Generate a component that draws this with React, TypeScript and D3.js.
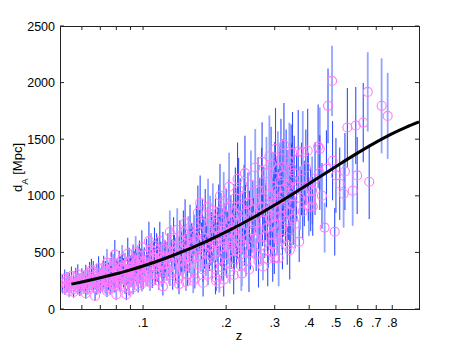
import React from "react";
import * as d3 from "d3";

const W = 463;
const H = 349;

// axis ticks
const xTicks = [0.06, 0.07, 0.08, 0.09, 0.1, 0.2, 0.3, 0.4, 0.5, 0.6, 0.7, 0.8];
const xTickLabels = ["", "", "", "", ".1", ".2", ".3", ".4", ".5", ".6", ".7", ".8"];
const yTicks = [0, 500, 1000, 1500, 2000, 2500];

// model curve
const curveZ = [0.055, 0.06, 0.07, 0.08, 0.09, 0.1, 0.12, 0.15, 0.2, 0.25, 0.3, 0.35, 0.4, 0.5, 0.6, 0.7, 0.8, 0.9, 1.0];
const curveDA = [220, 239, 276, 311, 346, 380, 446, 539, 681, 806, 919, 1019, 1108, 1259, 1379, 1474, 1549, 1607, 1652];

// points: [z, dA, error, kind (0 = dark bar, 1 = light bar)]
type Pt = [number, number, number, number];

const lowZPoints: Pt[] = [
  [0.051, 236, 70, 0], [0.052, 185, 60, 1], [0.052, 268, 80, 0], [0.053, 210, 65, 0], [0.054, 160, 55, 1],
  [0.054, 245, 75, 0], [0.055, 290, 85, 0], [0.055, 200, 60, 1], [0.056, 228, 70, 0], [0.056, 175, 55, 0],
  [0.057, 258, 80, 1], [0.057, 215, 65, 0], [0.058, 305, 90, 0], [0.058, 190, 60, 0], [0.059, 240, 75, 1],
  [0.059, 170, 55, 0], [0.060, 275, 85, 0], [0.060, 222, 70, 1], [0.051, 198, 60, 0], [0.053, 252, 75, 1],
  [0.054, 225, 70, 0], [0.056, 150, 50, 0], [0.057, 280, 85, 0], [0.058, 235, 70, 1], [0.059, 205, 65, 0],
  [0.061, 260, 75, 0], [0.061, 195, 60, 1], [0.062, 300, 90, 0], [0.062, 235, 70, 0], [0.063, 180, 55, 1],
  [0.063, 270, 80, 0], [0.064, 320, 95, 0], [0.064, 215, 65, 0], [0.065, 250, 75, 1], [0.065, 345, 100, 0],
  [0.066, 205, 60, 0], [0.066, 285, 85, 1], [0.067, 240, 70, 0], [0.067, 115, 45, 0], [0.068, 310, 90, 0],
  [0.068, 265, 80, 1], [0.069, 225, 70, 0], [0.069, 360, 105, 0], [0.070, 280, 85, 1], [0.070, 200, 60, 0],
  [0.062, 140, 50, 0], [0.064, 255, 75, 1], [0.066, 330, 95, 0], [0.068, 185, 60, 0], [0.069, 245, 75, 1],
  [0.071, 300, 90, 0], [0.071, 225, 70, 1], [0.072, 365, 105, 0], [0.072, 260, 80, 0], [0.073, 195, 60, 1],
  [0.073, 330, 95, 0], [0.074, 285, 85, 0], [0.074, 410, 120, 1], [0.075, 240, 75, 0], [0.075, 315, 95, 0],
  [0.076, 180, 55, 0], [0.076, 350, 100, 1], [0.077, 270, 80, 0], [0.077, 395, 115, 0], [0.078, 220, 70, 1],
  [0.078, 305, 90, 0], [0.079, 480, 130, 0], [0.079, 250, 75, 0], [0.080, 128, 50, 1], [0.080, 340, 100, 0],
  [0.072, 290, 85, 1], [0.074, 160, 55, 0], [0.076, 295, 90, 0], [0.078, 375, 110, 1], [0.079, 210, 65, 0],
  [0.081, 330, 95, 0], [0.081, 255, 75, 1], [0.082, 400, 115, 0], [0.082, 290, 85, 0], [0.083, 215, 65, 1],
  [0.083, 360, 105, 0], [0.084, 310, 90, 0], [0.084, 440, 125, 1], [0.085, 270, 80, 0], [0.085, 350, 100, 0],
  [0.086, 195, 60, 0], [0.086, 385, 110, 1], [0.087, 128, 50, 0], [0.087, 300, 90, 0], [0.088, 489, 140, 0],
  [0.088, 245, 75, 1], [0.089, 340, 100, 0], [0.089, 420, 120, 0], [0.090, 275, 85, 1], [0.090, 365, 105, 0],
  [0.082, 235, 70, 0], [0.084, 375, 110, 0], [0.086, 280, 85, 1], [0.088, 330, 100, 0], [0.089, 180, 60, 0],
  [0.091, 370, 110, 0], [0.091, 280, 85, 1], [0.092, 440, 130, 0], [0.092, 320, 95, 0], [0.093, 240, 75, 1],
  [0.093, 395, 115, 0], [0.094, 345, 100, 0], [0.094, 500, 145, 1], [0.095, 300, 90, 0], [0.095, 385, 115, 0],
  [0.096, 210, 65, 0], [0.096, 430, 125, 1], [0.097, 330, 100, 0], [0.097, 470, 135, 0], [0.098, 265, 80, 1],
  [0.098, 360, 105, 0], [0.099, 545, 150, 0], [0.099, 290, 85, 0], [0.100, 405, 120, 1], [0.100, 250, 75, 0],
  [0.092, 190, 60, 0], [0.094, 410, 120, 0], [0.096, 350, 105, 1], [0.098, 415, 120, 0], [0.099, 225, 70, 1],
];

const midZPoints: Pt[] = [
  [0.101, 420, 125, 0], [0.102, 330, 100, 1], [0.103, 480, 140, 0], [0.104, 380, 115, 0], [0.104, 290, 90, 1],
  [0.105, 445, 130, 0], [0.106, 350, 105, 0], [0.107, 520, 150, 1], [0.107, 400, 120, 0], [0.108, 265, 80, 0],
  [0.109, 460, 135, 0], [0.110, 370, 110, 1], [0.110, 560, 160, 0], [0.111, 310, 95, 0], [0.112, 430, 130, 1],
  [0.113, 490, 140, 0], [0.113, 345, 105, 0], [0.114, 250, 80, 0], [0.115, 405, 120, 1], [0.115, 600, 170, 0],
  [0.116, 460, 135, 0], [0.117, 280, 85, 1], [0.117, 385, 115, 0], [0.118, 530, 150, 0], [0.119, 440, 130, 1],
  [0.119, 330, 100, 0], [0.120, 470, 140, 0], [0.120, 395, 120, 0], [0.106, 235, 75, 1], [0.112, 520, 150, 0],
  [0.121, 455, 135, 0], [0.122, 360, 110, 1], [0.123, 520, 150, 0], [0.124, 410, 125, 0], [0.125, 300, 95, 1],
  [0.126, 575, 165, 0], [0.127, 470, 140, 0], [0.128, 385, 115, 1], [0.129, 630, 180, 0], [0.130, 505, 150, 0],
  [0.131, 330, 100, 0], [0.132, 445, 135, 1], [0.133, 560, 160, 0], [0.134, 270, 85, 0], [0.135, 490, 145, 1],
  [0.136, 610, 175, 0], [0.137, 420, 125, 0], [0.138, 535, 155, 0], [0.139, 355, 110, 1], [0.140, 680, 190, 0],
  [0.141, 470, 140, 0], [0.142, 580, 165, 1], [0.143, 390, 120, 0], [0.144, 515, 150, 0], [0.145, 300, 95, 0],
  [0.146, 640, 180, 1], [0.147, 455, 135, 0], [0.148, 545, 160, 0], [0.149, 405, 125, 1], [0.150, 590, 170, 0],
  [0.128, 250, 80, 0], [0.133, 700, 190, 1], [0.138, 470, 140, 0], [0.143, 240, 80, 1], [0.148, 720, 200, 0],
  [0.151, 560, 165, 0], [0.152, 440, 130, 1], [0.153, 650, 185, 0], [0.154, 270, 90, 0], [0.155, 510, 150, 1],
  [0.156, 720, 200, 0], [0.157, 600, 175, 0], [0.158, 390, 120, 0], [0.159, 540, 160, 1], [0.160, 680, 195, 0],
  [0.161, 939, 240, 0], [0.162, 470, 140, 1], [0.163, 590, 175, 0], [0.164, 760, 210, 0], [0.165, 350, 110, 1],
  [0.166, 630, 185, 0], [0.167, 505, 150, 0], [0.168, 830, 230, 0], [0.169, 420, 130, 1], [0.170, 570, 170, 0],
  [0.171, 700, 200, 0], [0.172, 310, 100, 1], [0.173, 610, 180, 0], [0.174, 480, 145, 0], [0.175, 780, 220, 1],
  [0.176, 550, 165, 0], [0.177, 660, 195, 0], [0.178, 380, 120, 0], [0.179, 870, 240, 1], [0.180, 590, 175, 0],
  [0.181, 640, 185, 0], [0.182, 500, 150, 1], [0.183, 760, 215, 0], [0.184, 250, 90, 0], [0.185, 590, 175, 1],
  [0.186, 700, 200, 0], [0.187, 430, 130, 0], [0.188, 860, 240, 0], [0.189, 225, 80, 1], [0.190, 650, 190, 0],
  [0.191, 540, 160, 0], [0.192, 800, 225, 1], [0.193, 370, 115, 0], [0.194, 690, 200, 0], [0.195, 590, 175, 0],
  [0.196, 950, 260, 1], [0.197, 480, 145, 0], [0.198, 720, 210, 0], [0.199, 620, 180, 1], [0.200, 830, 235, 0],
  [0.201, 400, 125, 0], [0.202, 670, 195, 0], [0.203, 560, 165, 1], [0.204, 900, 250, 0], [0.205, 740, 215, 0],
  [0.206, 330, 105, 1], [0.207, 610, 180, 0], [0.208, 780, 225, 0], [0.209, 510, 155, 0], [0.210, 690, 200, 1],
  [0.211, 720, 210, 0], [0.212, 560, 165, 1], [0.213, 860, 245, 0], [0.214, 440, 135, 0], [0.215, 650, 190, 1],
  [0.216, 980, 270, 0], [0.217, 760, 220, 0], [0.218, 520, 155, 0], [0.219, 830, 240, 1], [0.220, 620, 180, 0],
  [0.222, 1050, 285, 0], [0.223, 700, 205, 1], [0.224, 480, 145, 0], [0.225, 900, 255, 0], [0.226, 580, 170, 1],
  [0.228, 313, 110, 0], [0.229, 790, 230, 0], [0.230, 680, 200, 0], [0.232, 1000, 275, 1], [0.233, 550, 165, 0],
  [0.235, 850, 245, 0], [0.236, 420, 130, 1], [0.238, 740, 215, 0], [0.240, 940, 265, 0], [0.241, 630, 185, 1],
  [0.243, 810, 235, 0], [0.245, 500, 150, 0], [0.246, 1100, 300, 1], [0.248, 700, 205, 0], [0.250, 880, 250, 0],
];

const highZPoints: Pt[] = [
  [0.251, 760, 220, 0], [0.253, 620, 180, 1], [0.255, 950, 270, 0], [0.257, 480, 145, 0], [0.259, 830, 240, 1],
  [0.261, 1050, 290, 0], [0.263, 690, 200, 0], [0.265, 900, 260, 0], [0.267, 560, 165, 1], [0.269, 1120, 305, 0],
  [0.271, 780, 225, 0], [0.272, 375, 120, 1], [0.274, 980, 275, 0], [0.276, 640, 190, 0], [0.278, 860, 250, 0],
  [0.280, 1200, 320, 1], [0.282, 720, 210, 0], [0.284, 520, 155, 0], [0.286, 1010, 285, 1], [0.288, 800, 235, 0],
  [0.290, 660, 195, 0], [0.291, 1280, 330, 0], [0.293, 900, 260, 1], [0.294, 580, 170, 0], [0.296, 1080, 300, 0],
  [0.297, 750, 220, 1], [0.298, 940, 270, 0], [0.299, 450, 140, 0], [0.300, 1160, 315, 0], [0.300, 820, 240, 1],
  [0.302, 1415, 360, 0], [0.303, 880, 255, 1], [0.305, 1050, 290, 0], [0.306, 700, 205, 0], [0.308, 1240, 330, 1],
  [0.309, 960, 275, 0], [0.311, 600, 180, 0], [0.313, 1130, 310, 0], [0.314, 820, 240, 1], [0.316, 1330, 350, 0],
  [0.318, 1000, 285, 0], [0.319, 740, 215, 1], [0.321, 1180, 320, 0], [0.323, 900, 260, 0], [0.324, 1450, 370, 0],
  [0.326, 1060, 295, 1], [0.328, 780, 225, 0], [0.330, 1250, 335, 0], [0.331, 950, 270, 1], [0.333, 560, 170, 0],
  [0.335, 1100, 305, 0], [0.337, 860, 250, 0], [0.339, 1300, 345, 1], [0.341, 1000, 285, 0], [0.343, 700, 210, 0],
  [0.345, 1150, 315, 0], [0.346, 920, 265, 1], [0.348, 1380, 360, 0], [0.349, 1060, 295, 0], [0.350, 800, 235, 0],
  [0.353, 1200, 330, 0], [0.356, 754, 220, 1], [0.360, 1080, 300, 0], [0.365, 1392, 365, 0], [0.368, 595, 180, 0],
  [0.371, 980, 280, 1], [0.375, 1150, 320, 0], [0.379, 862, 250, 0], [0.379, 1383, 365, 1], [0.384, 1020, 290, 0],
  [0.389, 1250, 335, 0], [0.395, 1398, 370, 0], [0.399, 904, 260, 1], [0.397, 1080, 300, 0],
  [0.405, 966, 280, 0], [0.410, 1048, 300, 1], [0.412, 906, 260, 0], [0.420, 1150, 320, 0], [0.431, 1436, 370, 0],
  [0.437, 1415, 365, 1], [0.437, 1204, 330, 0], [0.445, 1000, 290, 0], [0.455, 719, 220, 1], [0.462, 1239, 340, 0],
  [0.468, 1795, 330, 0], [0.484, 2015, 310, 1], [0.486, 1310, 350, 0], [0.495, 683, 210, 0], [0.500, 1180, 330, 0],
  [0.516, 1107, 320, 0], [0.533, 1018, 300, 1], [0.539, 1215, 340, 0], [0.550, 1603, 350, 0], [0.575, 1045, 310, 1],
  [0.590, 1621, 340, 0], [0.597, 1180, 340, 0], [0.628, 1647, 350, 0], [0.652, 1918, 350, 1], [0.660, 1124, 330, 0],
  [0.732, 1795, 420, 1], [0.770, 1706, 380, 1],
];

// wider-scatter points across the dense band
const outlierPoints: Pt[] = [
  [0.105, 600, 170, 0], [0.118, 200, 80, 0], [0.125, 680, 190, 1], [0.135, 220, 90, 0], [0.142, 760, 210, 0],
  [0.152, 250, 110, 1], [0.158, 850, 240, 0], [0.165, 230, 120, 0], [0.172, 900, 250, 1], [0.183, 280, 150, 0],
  [0.190, 1000, 280, 0], [0.196, 260, 150, 0], [0.205, 1080, 300, 1], [0.213, 300, 170, 0], [0.220, 1150, 320, 0],
  [0.227, 380, 220, 1], [0.234, 1200, 330, 0], [0.242, 350, 200, 0], [0.255, 1250, 340, 1], [0.262, 420, 230, 0],
  [0.270, 1300, 350, 0], [0.283, 440, 240, 0], [0.287, 1350, 360, 1], [0.295, 500, 260, 0], [0.310, 450, 250, 1],
  [0.320, 620, 270, 0], [0.340, 520, 260, 0], [0.344, 1250, 380, 0],
];

const FONT = "'Liberation Sans', Arial, Helvetica, sans-serif";

export default function App() {
  const left = 60;
  const right = 419;
  const top = 26;
  const bottom = 309;
  const x = d3.scaleLog().domain([0.05, 1]).range([left, right]);
  const y = d3.scaleLinear().domain([0, 2500]).range([bottom, top]);
  const points = [...lowZPoints, ...midZPoints, ...highZPoints, ...outlierPoints];
  const line = d3
    .line<number>()
    .x((_, i) => x(curveZ[i]))
    .y((d) => y(d))
    .curve(d3.curveMonotoneX);
  const axisColor = "#222";
  const tickLen = 4;

  return (
    <svg
      width={W}
      height={H}
      style={{ position: "absolute", left: 0, top: 0, background: "#fff" }}
      fontFamily={FONT}
    >
      <defs>
        <clipPath id="plotClip">
          <rect x={left} y={top} width={right - left} height={bottom - top} />
        </clipPath>
      </defs>
      <rect x={0} y={0} width={W} height={H} fill="#fff" />
      <g clipPath="url(#plotClip)">
        {points.map((p, i) => (
          <line
            key={"b" + i}
            x1={x(p[0])}
            x2={x(p[0])}
            y1={y(p[1] - p[2])}
            y2={y(p[1] + p[2])}
            stroke={p[3] === 0 ? "#2f4dff" : "#93a5ff"}
            strokeWidth={p[3] === 0 ? 1.1 : 1.8}
          />
        ))}
        {points.map((p, i) => (
          <circle
            key={"c" + i}
            cx={x(p[0])}
            cy={y(p[1])}
            r={4.5}
            fill="none"
            stroke="#ff78ff"
            strokeWidth={1.1}
          />
        ))}
        <path d={line(curveDA) || ""} fill="none" stroke="#000" strokeWidth={3} />
      </g>
      {/* axes box */}
      <rect
        x={left + 0.5}
        y={top + 0.5}
        width={right - left}
        height={bottom - top}
        fill="none"
        stroke={axisColor}
        strokeWidth={1}
      />
      {xTicks.map((t, i) => (
        <g key={"xt" + i}>
          <line x1={x(t)} x2={x(t)} y1={bottom} y2={bottom - tickLen} stroke={axisColor} />
          <line x1={x(t)} x2={x(t)} y1={top} y2={top + tickLen} stroke={axisColor} />
          {xTickLabels[i] !== "" && (
            <text x={x(t)} y={327} textAnchor="middle" fontSize={12.5} fill="#000">
              {xTickLabels[i]}
            </text>
          )}
        </g>
      ))}
      {yTicks.map((t, i) => (
        <g key={"yt" + i}>
          <line x1={left} x2={left + tickLen} y1={y(t)} y2={y(t)} stroke={axisColor} />
          <line x1={right} x2={right - tickLen} y1={y(t)} y2={y(t)} stroke={axisColor} />
          <text x={55} y={y(t) + 4.5} textAnchor="end" fontSize={12.5} fill="#000">
            {t}
          </text>
        </g>
      ))}
      <text x={239} y={340} textAnchor="middle" fontSize={13} fill="#000">
        z
      </text>
      <text
        transform={`translate(22,${(top + bottom) / 2}) rotate(-90)`}
        textAnchor="middle"
        fontSize={13}
        fill="#000"
      >
        d
        <tspan baselineShift="sub" fontSize={9.5}>A</tspan>
        <tspan> [Mpc]</tspan>
      </text>
    </svg>
  );
}
